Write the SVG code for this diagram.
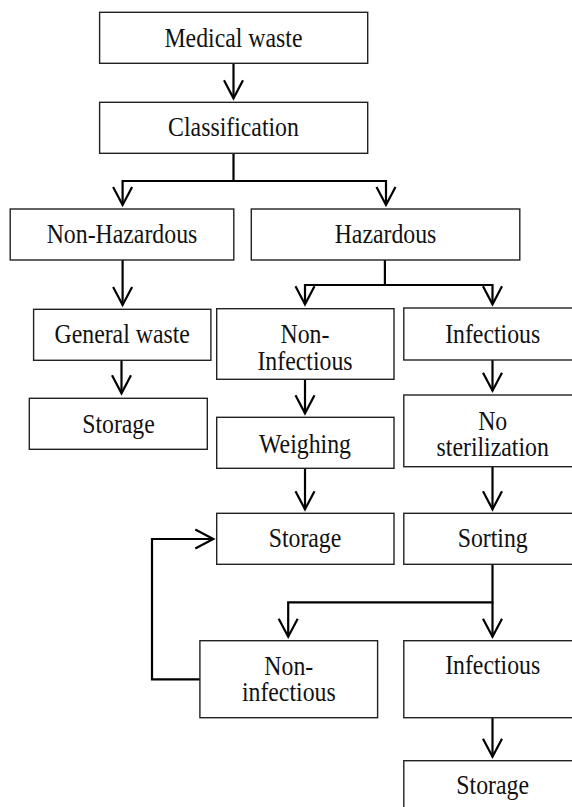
<svg xmlns="http://www.w3.org/2000/svg" width="572" height="807" viewBox="0 0 572 807">
  <style>
    .box { fill: #ffffff; stroke: #222222; stroke-width: 1.4; }
    .lbl { font-family: "Liberation Serif", "Times New Roman", serif; font-size: 26.5px; fill: #111111; text-anchor: middle;
           transform-box: fill-box; transform-origin: center; transform: scaleX(0.898); }
    .wire { fill: none; stroke: #000000; stroke-width: 2.2; stroke-linejoin: miter; marker-end: url(#arrow); }
  </style>
  <defs>
    <marker id="arrow" markerUnits="userSpaceOnUse" viewBox="0 0 20 22" markerWidth="20" markerHeight="22" refX="18" refY="11" orient="auto" overflow="visible">
      <path d="M0,1.5 L18,11 L0,20.5" fill="none" stroke="#000000" stroke-width="2.2" stroke-linejoin="miter"/>
    </marker>
  </defs>
  <rect width="572" height="807" fill="#ffffff"/>

  <!-- connectors -->
  <g id="connectors">
    <path class="wire" d="M233.5,63.3 V98.3"/>
    <path class="wire" d="M233.5,153.3 V181 H122.6 V205"/>
    <path class="wire" d="M233.5,181 H386 V205"/>
    <path class="wire" d="M122.6,260 V305"/>
    <path class="wire" d="M384.9,260 V285 H305 V304.3"/>
    <path class="wire" d="M384.9,285 H492.5 V304.3"/>
    <path class="wire" d="M121.5,360.3 V393.3"/>
    <path class="wire" d="M305,379.3 V413.3"/>
    <path class="wire" d="M492.5,360 V390.7"/>
    <path class="wire" d="M305,468.3 V509.3"/>
    <path class="wire" d="M492.5,466.7 V509.3"/>
    <path class="wire" d="M492.5,564.3 V602.3 H288.2 V636.7"/>
    <path class="wire" d="M492.5,602.3 V636.7"/>
    <path class="wire" d="M199.9,679.3 H152 V539 H213.3"/>
    <path class="wire" d="M492.5,717.7 V756.7"/>
  </g>

  <g id="medical-waste">
    <rect class="box" x="99.6" y="12.3" width="268.1" height="51"/>
    <text class="lbl" x="233.5" y="46.7">Medical waste</text>
  </g>
  <g id="classification">
    <rect class="box" x="99.6" y="102.3" width="268.1" height="51"/>
    <text class="lbl" x="233.5" y="136.3">Classification</text>
  </g>
  <g id="non-hazardous">
    <rect class="box" x="10.2" y="209" width="223.6" height="51"/>
    <text class="lbl" x="122" y="243">Non-Hazardous</text>
  </g>
  <g id="hazardous">
    <rect class="box" x="251.3" y="209" width="268.5" height="51"/>
    <text class="lbl" x="385.5" y="243">Hazardous</text>
  </g>
  <g id="general-waste">
    <rect class="box" x="33.6" y="309.3" width="177.3" height="51"/>
    <text class="lbl" x="122.2" y="343">General waste</text>
  </g>
  <g id="non-infectious-1">
    <rect class="box" x="216.7" y="308.7" width="177.3" height="70.6"/>
    <text class="lbl" x="305" y="343.3">Non-</text>
    <text class="lbl" x="305" y="370.5">Infectious</text>
  </g>
  <g id="infectious-1">
    <rect class="box" x="403.8" y="308" width="178" height="52"/>
    <text class="lbl" x="492.7" y="343">Infectious</text>
  </g>
  <g id="storage-general">
    <rect class="box" x="29.3" y="398.3" width="178" height="51"/>
    <text class="lbl" x="118.5" y="433">Storage</text>
  </g>
  <g id="weighing">
    <rect class="box" x="216.7" y="417.3" width="177.3" height="51"/>
    <text class="lbl" x="305" y="452.7">Weighing</text>
  </g>
  <g id="no-sterilization">
    <rect class="box" x="403.8" y="395" width="178" height="71.7"/>
    <text class="lbl" x="492.7" y="429.7">No</text>
    <text class="lbl" x="492.7" y="456.5">sterilization</text>
  </g>
  <g id="storage-hazardous">
    <rect class="box" x="216.7" y="513.3" width="177.3" height="51"/>
    <text class="lbl" x="305" y="547">Storage</text>
  </g>
  <g id="sorting">
    <rect class="box" x="403.8" y="513.3" width="178" height="51"/>
    <text class="lbl" x="492.7" y="547">Sorting</text>
  </g>
  <g id="non-infectious-2">
    <rect class="box" x="199.9" y="640.7" width="177.7" height="77"/>
    <text class="lbl" x="288.8" y="674.7">Non-</text>
    <text class="lbl" x="288.8" y="701.5">infectious</text>
  </g>
  <g id="infectious-2">
    <rect class="box" x="403.8" y="640.7" width="178" height="77"/>
    <text class="lbl" x="492.7" y="674">Infectious</text>
  </g>
  <g id="storage-infectious">
    <rect class="box" x="403.8" y="760.7" width="178" height="60"/>
    <text class="lbl" x="492.7" y="793.8">Storage</text>
  </g>
</svg>
